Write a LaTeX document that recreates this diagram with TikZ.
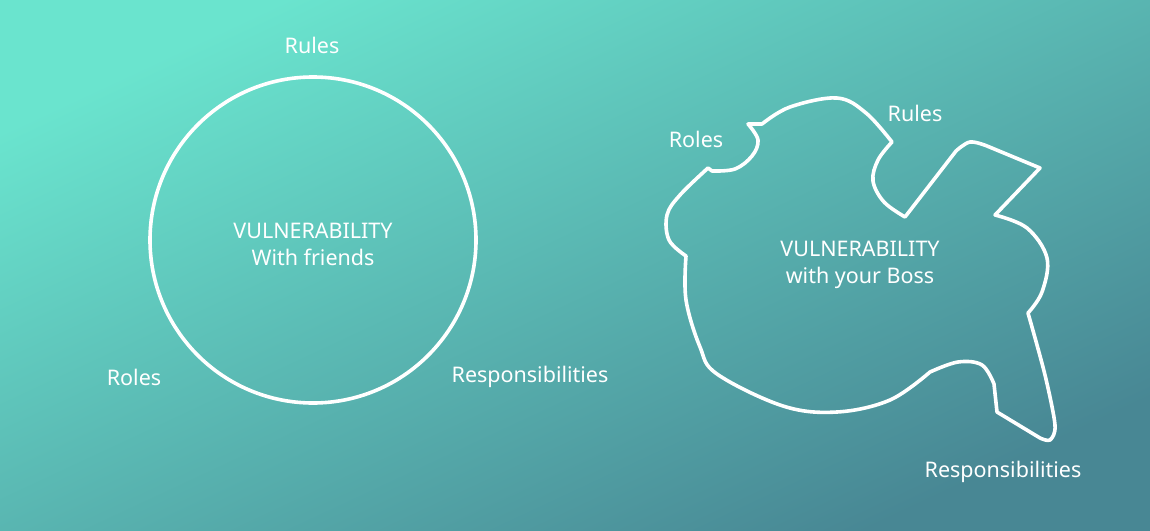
\documentclass[tikz,border=0pt]{standalone}
\usepackage{fontspec}
\setmainfont{Noto Sans}
\definecolor{bgA}{HTML}{6AE4CE}
\definecolor{bgB}{HTML}{488794}
\tikzset{
  lbl/.style={text=white, font=\fontsize{21.5}{27}\selectfont, inner sep=0pt, align=center},
  outline/.style={draw=white, line width=3.6pt, line join=round, line cap=round}
}
\begin{document}
\begin{tikzpicture}[x=1pt,y=-1pt]
\useasboundingbox (0,0) rectangle (1150,530);
\begin{scope}[y=1pt]
\shade[top color=bgA, bottom color=bgB, shading angle=25] (0,-530) rectangle (1150,0);
\end{scope}
% circle
\node[outline, circle, minimum size=326pt, inner sep=0pt] (circ) at (313,240) {};
\node[lbl] (c1) at (313,244) {VULNERABILITY\\With friends};
\node[lbl] (crules) at (312,45) {Rules};
\node[lbl] (croles) at (134,377) {Roles};
\node[lbl] (cresp) at (530,377) {Responsibilities};
% blob
\draw[outline]
  plot[smooth, tension=0.6] coordinates {(762,124) (790,107) (837,98) (866,113) (892,142)}
  -- plot[smooth, tension=0.6] coordinates {(892,142) (878,160) (873,181) (884,202) (905,217)}
  -- (956,151)
  -- plot[smooth, tension=0.6] coordinates {(956,151) (970,142) (987,146)}
  -- (1040,168) -- (995,215)
  -- plot[smooth, tension=0.6] coordinates {(995,215) (1027,228) (1047,258) (1042,292) (1028,313)}
  -- plot[smooth, tension=0.5] coordinates {(1028,313) (1045,375) (1055,425) (1050,440) (1040,438)}
  -- (997,412) -- (994,384)
  -- plot[smooth, tension=0.6] coordinates {(994,384) (982,365) (958,362) (930,372)}
  -- plot[smooth, tension=0.6] coordinates {(930,372) (890,400) (837,412) (783,406) (717,374) (700,347) (686,300) (686,256)}
  -- plot[smooth, tension=0.6] coordinates {(686,256) (669,240) (667,215) (680,195) (708,168)}
  -- (712,171)
  -- plot[smooth, tension=0.6] coordinates {(712,171) (735,169) (752,156) (758,140) (748,124)}
  -- cycle;
\node[lbl] (b1) at (860,265) {VULNERABILITY\\with your Boss};
\node[lbl] (broles) at (696,139) {Roles};
\node[lbl] (brules) at (915,113) {Rules};
\node[lbl] (bresp) at (1003,472) {Responsibilities};
\end{tikzpicture}
\end{document}
